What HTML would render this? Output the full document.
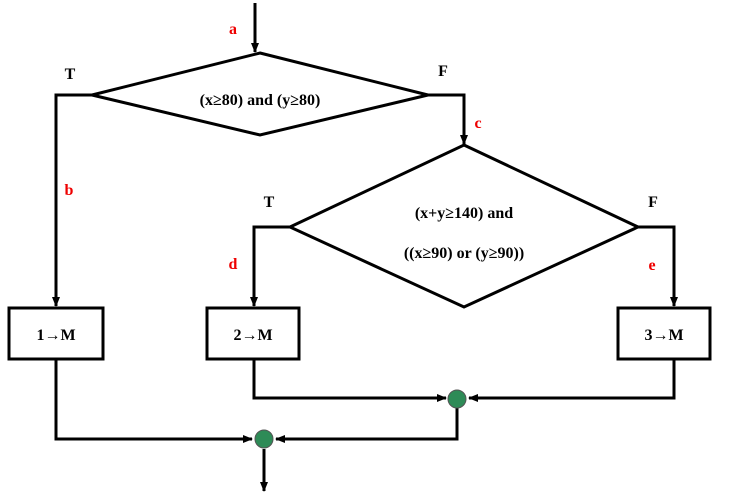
<!DOCTYPE html>
<html><head><meta charset="utf-8"><style>
html,body{margin:0;padding:0;background:#fff;width:735px;height:494px;overflow:hidden}
text{font-family:"Liberation Serif",serif;font-weight:bold}
</style></head><body>
<svg width="735" height="494" viewBox="0 0 735 494" xmlns="http://www.w3.org/2000/svg">
<defs><marker id="ar" markerWidth="10" markerHeight="10" refX="9" refY="5" orient="auto" markerUnits="userSpaceOnUse"><path d="M0,1 L10,5 L0,9 Z" fill="#000"/></marker></defs>
<g fill="none" stroke="#000" stroke-width="3">
<line x1="255" y1="3" x2="255" y2="52" marker-end="url(#ar)"/>
<polygon points="260,53 428,95 260,135 92,95"/>
<polyline points="92,95 56,95 56,306" marker-end="url(#ar)"/>
<polyline points="428,95 464,95 464,144" marker-end="url(#ar)"/>
<polygon points="464,145 638,227 464,307 290,227"/>
<polyline points="290,227 254,227 254,306" marker-end="url(#ar)"/>
<polyline points="638,227 674,227 674,306" marker-end="url(#ar)"/>
<rect x="9" y="308" width="94" height="51"/>
<rect x="207" y="308" width="92" height="51"/>
<rect x="618" y="308" width="92" height="51"/>
<polyline points="254,359 254,398 446,398" marker-end="url(#ar)"/>
<polyline points="674,359 674,398 469,398" marker-end="url(#ar)"/>
<polyline points="457,408 457,439 276,439" marker-end="url(#ar)"/>
<polyline points="56,359 56,439 252,439" marker-end="url(#ar)"/>
<line x1="264" y1="449" x2="264" y2="491" marker-end="url(#ar)"/>
</g>
<circle cx="457" cy="399" r="9" fill="#2e8b57" stroke="#555" stroke-width="1"/>
<circle cx="264" cy="439" r="9" fill="#2e8b57" stroke="#555" stroke-width="1"/>
<g font-size="16" fill="#000" text-anchor="middle">
<text x="260" y="105">(x≥80) and (y≥80)</text>
<text x="464" y="218">(x+y≥140) and</text>
<text x="464" y="258">((x≥90) or (y≥90))</text>
<text x="56" y="340">1→M</text>
<text x="253" y="340">2→M</text>
<text x="664" y="340">3→M</text>
<text x="70" y="79">T</text>
<text x="443" y="76">F</text>
<text x="269" y="207">T</text>
<text x="653" y="207">F</text>
</g>
<g font-size="16" fill="#e00" text-anchor="middle">
<text x="233" y="34">a</text>
<text x="478" y="128">c</text>
<text x="69" y="195">b</text>
<text x="233" y="269">d</text>
<text x="652" y="270">e</text>
</g>
</svg>
</body></html>
